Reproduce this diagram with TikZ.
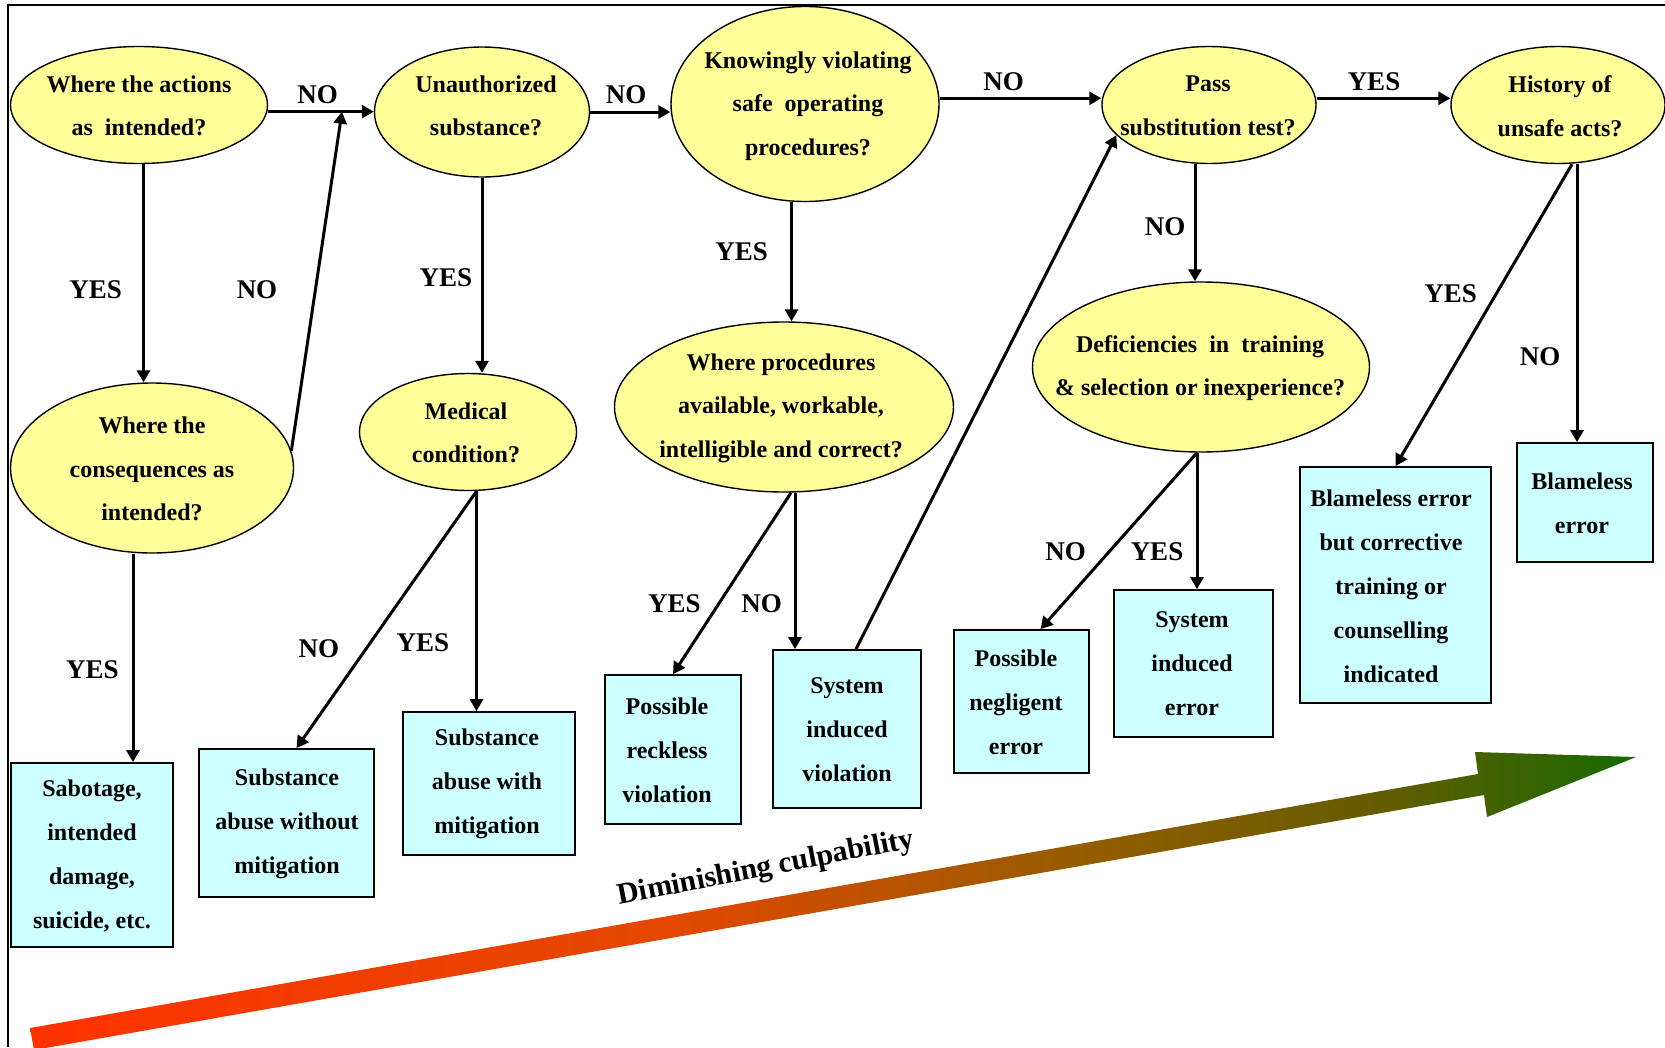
\documentclass[tikz,border=0pt]{standalone}
\usepackage{fontspec}
\setmainfont{Liberation Serif}
\usetikzlibrary{arrows.meta,shapes.geometric,calc}
\definecolor{qyellow}{RGB}{255,255,153}
\definecolor{rcyan}{RGB}{204,255,255}
\definecolor{cA}{RGB}{255,51,0}
\definecolor{cB}{RGB}{226,72,0}
\definecolor{cC}{RGB}{150,92,0}
\definecolor{cE}{RGB}{100,92,0}
\definecolor{cD}{RGB}{22,105,0}
\pgfdeclarehorizontalshading{culp}{100bp}{color(0bp)=(cA); color(25bp)=(cA); color(45bp)=(cB); color(57.5bp)=(cC); color(67bp)=(cE); color(75bp)=(cD); color(100bp)=(cD)}
\begin{document}
\begin{tikzpicture}[x=1pt,y=-1pt,
  q/.style={ellipse,draw,line width=1.4pt,fill=qyellow,inner sep=0pt},
  qtxt/.style={align=center,font=\fontsize{24}{43.5}\selectfont\bfseries,inner sep=0pt},
  res/.style={rectangle,draw,line width=1.8pt,fill=rcyan,inner sep=0pt},
  rtxt/.style={align=center,font=\fontsize{24}{44}\selectfont\bfseries,inner sep=0pt},
  lbl/.style={font=\fontsize{27}{27}\selectfont\bfseries,inner sep=0pt},
  conn/.style={line width=3pt,-{Triangle[length=12pt,width=13pt]}}]
\useasboundingbox (0,0) rectangle (1665,1047);
\fill[white] (0,0) rectangle (1665,1047);
% frame
\draw[line width=1.8pt] (8,1047) -- (8,5) -- (1665,5);

% big arrow
\shade[shading=culp] (30,1028) -- (1478,774) -- (1475,752) -- (1636,757) -- (1487,817) -- (1484,795) -- (34,1050) -- cycle;
\node[rotate=11,font=\fontsize{30}{30}\selectfont\bfseries,inner sep=0pt] (dc) at (766,869) {Diminishing culpability};

% decision ellipses
\node[q,minimum width=257pt,minimum height=117pt] (e1) at (139,105) {};
\node[qtxt] (t1) at (139,106) {Where the actions\\as~ intended?};
\node[q,minimum width=215pt,minimum height=130pt] (e2) at (482,112) {};
\node[qtxt] (t2) at (486,106) {Unauthorized\\substance?};
\node[q,minimum width=268pt,minimum height=195pt] (e3) at (805,104) {};
\node[qtxt] (t3) at (808,106) {Knowingly violating\\safe~ operating\\procedures?};
\node[q,minimum width=214pt,minimum height=117pt] (e4) at (1209,105) {};
\node[qtxt] (t4) at (1208,106) {Pass\\substitution test?};
\node[q,minimum width=214pt,minimum height=117pt] (e5) at (1558,105) {};
\node[qtxt] (t5) at (1560,106) {History of\\unsafe acts?};
\node[q,minimum width=283pt,minimum height=170pt] (e6) at (152,468) {};
\node[qtxt] (t6) at (152,469) {Where the\\consequences as\\intended?};
\node[q,minimum width=217pt,minimum height=117pt] (e7) at (468,432) {};
\node[qtxt] (t7) at (466,433) {Medical\\condition?};
\node[q,minimum width=339pt,minimum height=170pt] (e8) at (784,407) {};
\node[qtxt] (t8) at (781,408) {Where procedures\\available, workable,\\intelligible and correct?};
\node[q,minimum width=337pt,minimum height=170pt] (e9) at (1201,367) {};
\node[qtxt] (t9) at (1200,368) {Deficiencies~ in~ training\\\& selection or inexperience?};

% result boxes
\node[res,minimum width=162pt,minimum height=184pt] (b1) at (92,855) {};
\node[rtxt] (r1) at (92,856) {Sabotage,\\intended\\damage,\\suicide, etc.};
\node[res,minimum width=175pt,minimum height=148pt] (b2) at (286.5,823) {};
\node[rtxt] (r2) at (287,824) {Substance\\abuse without\\mitigation};
\node[res,minimum width=172pt,minimum height=143pt] (b3) at (489,783.5) {};
\node[rtxt] (r3) at (487,784) {Substance\\abuse with\\mitigation};
\node[res,minimum width=136pt,minimum height=149pt] (b4) at (673,749.5) {};
\node[rtxt] (r4) at (667,750) {Possible\\reckless\\violation};
\node[res,minimum width=148pt,minimum height=158pt] (b5) at (847,729) {};
\node[rtxt] (r5) at (847,730) {System\\induced\\violation};
\node[res,minimum width=135pt,minimum height=143pt] (b6) at (1021.5,701.5) {};
\node[rtxt] (r6) at (1016,702) {Possible\\negligent\\error};
\node[res,minimum width=159pt,minimum height=147pt] (b7) at (1193.5,663.5) {};
\node[rtxt] (r7) at (1192,664) {System\\induced\\error};
\node[res,minimum width=191pt,minimum height=236pt] (b8) at (1395.5,585) {};
\node[rtxt] (r8) at (1391,586) {Blameless error\\but corrective\\training or\\counselling\\indicated};
\node[res,minimum width=136pt,minimum height=119pt] (b9) at (1585,502.5) {};
\node[rtxt] (r9) at (1582,503) {Blameless\\error};

% labels
\node[lbl] (l1) at (317.6,95) {NO};
\node[lbl] (l2) at (95.7,290) {YES};
\node[lbl] (l3) at (257,290) {NO};
\node[lbl] (l4) at (92.4,670) {YES};
\node[lbl] (l5) at (446,278) {YES};
\node[lbl] (l6) at (626,95) {NO};
\node[lbl] (l7) at (318.8,648.3) {NO};
\node[lbl] (l8) at (423,643) {YES};
\node[lbl] (l9) at (741.6,251.7) {YES};
\node[lbl] (l10) at (1003.7,81.7) {NO};
\node[lbl] (l11) at (674.4,603.3) {YES};
\node[lbl] (l12) at (761.6,603.3) {NO};
\node[lbl] (l13) at (1165,226.7) {NO};
\node[lbl] (l14) at (1374,81.7) {YES};
\node[lbl] (l15) at (1065.5,551.7) {NO};
\node[lbl] (l16) at (1157,551.7) {YES};
\node[lbl] (l17) at (1450.5,294) {YES};
\node[lbl] (l18) at (1540.2,356.3) {NO};

% helper coordinates
\coordinate (j1) at (342,111.7);
\coordinate (s1) at ($(e1.east)+(0,6.7)$);
\coordinate (s2) at ($(e1.south)+(4.5,0)$);
\coordinate (s4) at ($(e6.south)+(-19,0)$);
\coordinate (s7) at ($(e7.south)+(8.5,0)$);
\coordinate (s9) at ($(e3.south)+(-13.5,0)$);
\coordinate (s10) at ($(e3.east)+(0,-5.7)$);
\coordinate (s11) at ($(e8.south)+(7,0)$);
\coordinate (s12) at ($(e8.south)+(11,0)$);
\coordinate (s13) at ($(b5.north)+(9,0)$);
\coordinate (s14) at ($(e4.south)+(-14,0)$);
\coordinate (s15) at ($(e4.east)+(0,-6.7)$);
\coordinate (s16) at ($(e9.south)+(-4,0)$);
\coordinate (s18) at ($(e5.south)+(14,0)$);
\coordinate (s19) at ($(e5.south)+(19,0)$);

% connectors
\draw[conn] (s1) -- (s1 -| e2.west);
\draw[conn] (s2) -- (s2 |- e6.north);
\draw[conn] (e6.7) -- (j1);
\draw[conn] (s4) -- (s4 |- b1.north);
\draw[conn] (e2.south) -- (e2.south |- e7.north);
\draw[conn] (e2.east) -- (e2.east -| e3.west);
\draw[conn] (s7) -- ($(b2.north)+(10,0)$);
\draw[conn] (s7) -- (s7 |- b3.north);
\draw[conn] (s9) -- (s9 |- e8.north);
\draw[conn] (s10) -- (s10 -| e4.west);
\draw[conn] (s11) -- (b4.north);
\draw[conn] (s12) -- (s12 |- b5.north);
\draw[conn] (s13) -- (e4.198);
\draw[conn] (s14) -- (s14 |- e9.north);
\draw[conn] (s15) -- (s15 -| e5.west);
\draw[conn] (s16) -- ($(b6.north)+(19,0)$);
\draw[conn] (s16) -- (s16 |- b7.north);
\draw[conn] (s18) -- (b8.north);
\draw[conn] (s19) -- (s19 |- b9.north);
\end{tikzpicture}
\end{document}
